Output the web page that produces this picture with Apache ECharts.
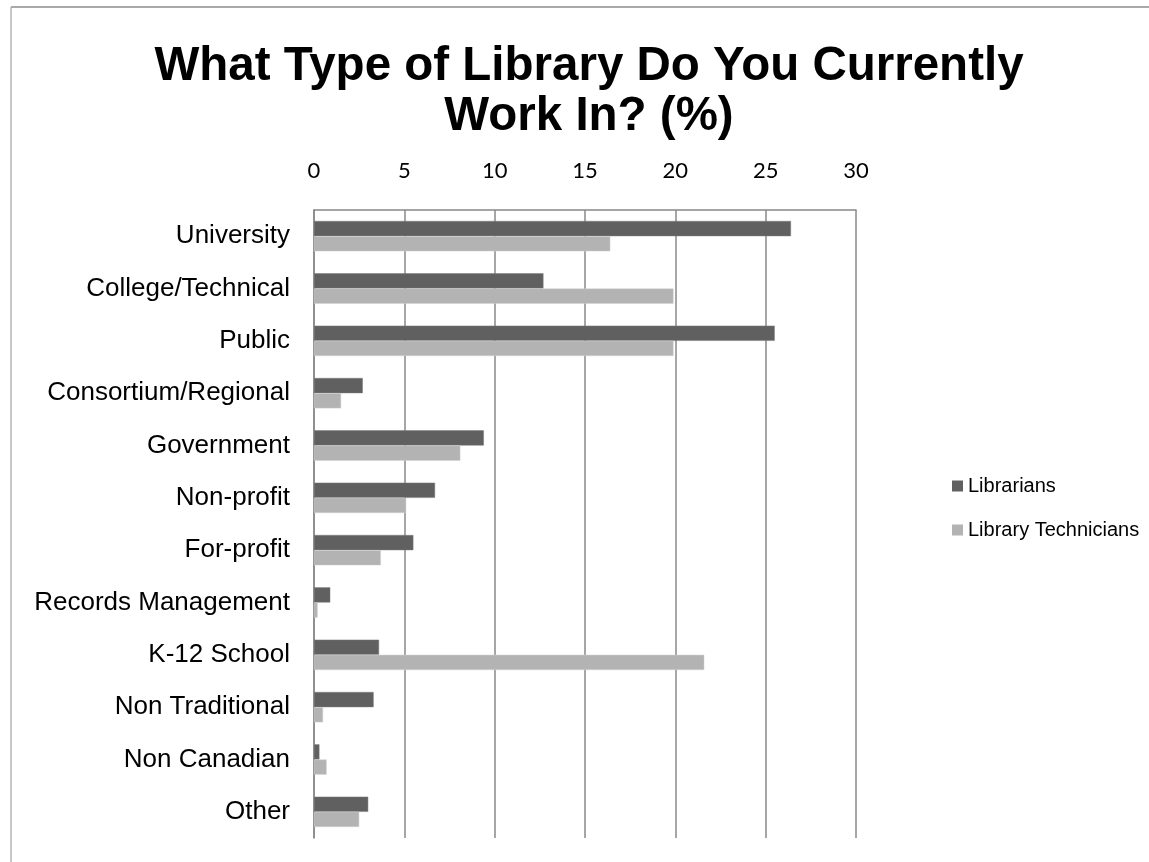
<!DOCTYPE html>
<html>
<head>
<meta charset="utf-8">
<script src="https://cdn.jsdelivr.net/npm/echarts@6/dist/echarts.min.js"></script>
<style>
html,body{margin:0;padding:0;background:#fff;}
#chart{width:1149px;height:862px;}
</style>
</head>
<body>
<div id="chart"></div>
<script>
const categories = ["University","College/Technical","Public","Consortium/Regional","Government","Non-profit","For-profit","Records Management","K-12 School","Non Traditional","Non Canadian","Other"];
const librarians = [26.4, 12.7, 25.5, 2.7, 9.4, 6.7, 5.5, 0.9, 3.6, 3.3, 0.3, 3.0];
const technicians = [16.4, 19.9, 19.9, 1.5, 8.1, 5.1, 3.7, 0.2, 21.6, 0.5, 0.7, 2.5];
const xTicks = [0, 5, 10, 15, 20, 25, 30];

const chart = echarts.init(document.getElementById('chart'));
chart.setOption({
  animation: false,
  backgroundColor: '#ffffff',
  title: {
    text: 'What Type of Library Do You Currently\nWork In? (%)',
    left: 584, top: 37, textAlign: 'center',
    textStyle: {fontFamily: 'Liberation Sans, Arial, sans-serif', fontWeight: 'bold', fontSize: 47.5, lineHeight: 50, color: '#000'}
  },
  graphic: [
    {type: 'line', shape: {x1: 11, y1: 7, x2: 1149, y2: 7}, style: {stroke: '#8c8c8c', lineWidth: 1.5}},
    {type: 'line', shape: {x1: 11, y1: 7, x2: 11, y2: 862}, style: {stroke: '#b4b4b4', lineWidth: 1.5}}
  ],
  legend: {
    orient: 'vertical', left: 947, top: 471, itemWidth: 11, itemHeight: 11, itemGap: 24,
    icon: 'rect',
    itemStyle: {borderWidth: 0},
    textStyle: {fontFamily: 'Liberation Sans, Arial, sans-serif', fontSize: 20, color: '#000', padding: [0,0,0,0]},
    data: ['Librarians', 'Library Technicians']
  },
  grid: {left: 314, right: 293, top: 210, bottom: 24},
  xAxis: {
    type: 'value', position: 'top', min: 0, max: 30, interval: 5,
    axisLine: {show: true, lineStyle: {color: '#888', width: 1.5}},
    axisTick: {show: false},
    splitLine: {show: true, lineStyle: {color: '#888', width: 1.5}},
    axisLabel: {fontFamily: 'Lato, Open Sans, sans-serif', fontSize: 22, color: '#000', margin: 28,
      formatter: v => xTicks.includes(v) ? String(v) : ''}
  },
  yAxis: {
    type: 'category', inverse: true, data: categories,
    axisLine: {show: true, lineStyle: {color: '#888', width: 1.5}},
    axisTick: {show: false},
    axisLabel: {fontFamily: 'Liberation Sans, Arial, sans-serif', fontSize: 26, color: '#000', margin: 24}
  },
  series: [
    {name: 'Librarians', type: 'bar', data: librarians, barGap: '0%', barCategoryGap: '42%',
     itemStyle: {color: '#606060', borderColor: '#7a7a7a', borderWidth: 0.5}},
    {name: 'Library Technicians', type: 'bar', data: technicians, barGap: '0%', barCategoryGap: '42%',
     itemStyle: {color: '#b3b3b3', borderColor: '#d0d0d0', borderWidth: 0.5}}
  ]
});
</script>
</body>
</html>
